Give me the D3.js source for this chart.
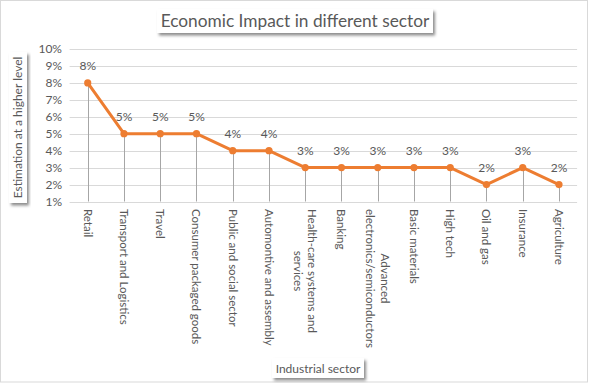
<!DOCTYPE html>
<html><head><meta charset="utf-8">
<script src="https://cdn.jsdelivr.net/npm/d3@7"></script>
<style>
body{margin:0;background:#fff;}
svg{display:block;}
text{font-family:Lato, "Open Sans", sans-serif;fill:#595959;}
</style></head>
<body>
<svg id="c" width="592" height="383"></svg>
<script>
const categories = ["Retail","Transport and Logistics","Travel","Consumer packaged goods","Public and social sector","Automontive and assembly","Health-care systems and services","Banking","Advanced electronics/semiconductors","Basic materials","High tech","Oil and gas","Insurance","Agriculture"];
const values = [8,5,5,5,4,4,3,3,3,3,3,2,3,2];
const yTicks = [1,2,3,4,5,6,7,8,9,10];
const title = "Economic Impact in different sector";
const xTitle = "Industrial sector";
const yTitle = "Estimation at a higher level";

const svg = d3.select("#c");
const defs = svg.append("defs");
const f = defs.append("filter").attr("id","sh").attr("x","-10%").attr("y","-20%").attr("width","130%").attr("height","160%");
f.append("feDropShadow").attr("dx",2).attr("dy",2.5).attr("stdDeviation",1.6).attr("flood-color","#000").attr("flood-opacity",0.45);

svg.append("rect").attr("x",0.5).attr("y",0.5).attr("width",587).attr("height",381.5)
  .attr("fill","#fff").attr("stroke","#d9d9d9");

const x = d3.scaleBand().domain(categories).range([69.6,577.1]);
const y = d3.scaleLinear().domain([1,10]).range([201.5,49]);

// gridlines
svg.append("g").selectAll("line").data(yTicks).join("line")
  .attr("x1",69.6).attr("x2",577.1).attr("y1",d=>Math.round(y(d))+0.5).attr("y2",d=>Math.round(y(d))+0.5)
  .attr("stroke","#d9d9d9").attr("stroke-width",1);

// y tick labels
svg.append("g").selectAll("text").data(yTicks).join("text")
  .attr("x",62).attr("y",d=>y(d)).attr("dy","0.35em").attr("text-anchor","end")
  .attr("font-size",12).text(d=>d+"%");

const cx = d=>x(d)+x.bandwidth()/2;

// drop lines
svg.append("g").selectAll("line").data(categories).join("line")
  .attr("x1",d=>Math.round(cx(d))+0.5).attr("x2",d=>Math.round(cx(d))+0.5)
  .attr("y1",(d,i)=>y(values[i])).attr("y2",y(1))
  .attr("stroke","#a6a6a6").attr("stroke-width",1);

// line
const line = d3.line().x((d,i)=>cx(categories[i])).y(d=>y(d));
svg.append("path").datum(values).attr("d",line).attr("fill","none")
  .attr("stroke","#ED7D31").attr("stroke-width",3).attr("stroke-linejoin","round");
svg.append("g").selectAll("circle").data(values).join("circle")
  .attr("cx",(d,i)=>cx(categories[i])).attr("cy",d=>y(d)).attr("r",3.6).attr("fill","#ED7D31");

// data labels
svg.append("g").selectAll("text").data(values).join("text")
  .attr("x",(d,i)=>cx(categories[i])).attr("y",d=>y(d)-13).attr("text-anchor","middle")
  .attr("font-size",12).text(d=>d+"%");

// category labels (rotated, wrapped)
const fs = 11.5, lh = 14.5, maxW = 142;
const meas = svg.append("text").attr("font-size",fs).attr("visibility","hidden");
function wrap(s){
  const words = s.split(" "); const lines=[]; let cur="";
  words.forEach(w=>{
    const t = cur? cur+" "+w : w;
    meas.text(t);
    if(meas.node().getComputedTextLength()>maxW && cur){lines.push(cur);cur=w;}
    else cur=t;
  });
  if(cur) lines.push(cur);
  return lines;
}
function wid(s){meas.text(s);return meas.node().getComputedTextLength();}
categories.forEach(c=>{
  const lines = wrap(c);
  const mw = d3.max(lines,wid);
  const g = svg.append("g").attr("transform",`translate(${cx(c)},209) rotate(90)`);
  lines.forEach((l,i)=>{
    g.append("text").attr("font-size",fs).attr("text-anchor","middle")
      .attr("x",mw/2).attr("y",(i-(lines.length-1)/2)*lh).attr("dy","0.35em").text(l);
  });
});
meas.remove();

// title
svg.append("rect").attr("x",157).attr("y",9).attr("width",276).attr("height",24)
  .attr("fill","#fff").attr("filter","url(#sh)");
svg.append("text").attr("x",295).attr("y",21).attr("dy","0.36em").attr("text-anchor","middle")
  .attr("font-size",17.3).text(title);

// x title
svg.append("rect").attr("x",272).attr("y",358).attr("width",92).attr("height",20)
  .attr("fill","#fff").attr("filter","url(#sh)");
svg.append("text").attr("x",318).attr("y",368.5).attr("dy","0.36em").attr("text-anchor","middle")
  .attr("font-size",12).text(xTitle);

// y title
svg.append("rect").attr("x",9).attr("y",52).attr("width",18).attr("height",151)
  .attr("fill","#fff").attr("filter","url(#sh)");
svg.append("text").attr("transform","translate(18,127.5) rotate(-90)").attr("dy","0.36em").attr("text-anchor","middle")
  .attr("font-size",12).text(yTitle);
</script>
</body></html>
